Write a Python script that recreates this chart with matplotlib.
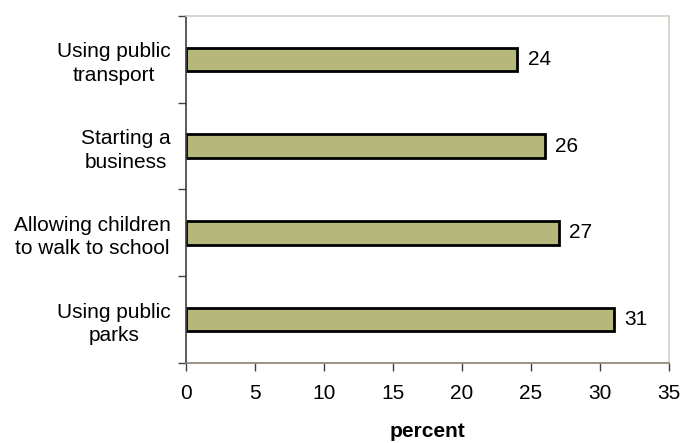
import matplotlib.pyplot as plt
import numpy as np

plt.rcParams['font.family'] = ['Liberation Sans', 'DejaVu Sans']

# Donnees (du bas vers le haut)
categories = ['Using public\nparks', 'Allowing children\nto walk to school',
              'Starting a\nbusiness', 'Using public\ntransport']
valeurs = [31, 27, 26, 24]

fig = plt.figure(figsize=(6.8, 4.43), dpi=100)
ax = fig.add_axes([0.2735, 0.1806, 0.7103, 0.7833])

y = np.arange(len(categories))
ax.barh(y, valeurs, height=0.27, color='#b5b87a', edgecolor='black', linewidth=2)

for yi, v in zip(y, valeurs):
    ax.text(v + 0.75, yi, str(v), va='center', ha='left', fontsize=15)

ax.set_xlim(0, 35)
ax.set_ylim(-0.5, len(categories) - 0.5)
ax.set_xticks(np.arange(0, 36, 5))
ax.set_yticks(y)
ax.set_yticklabels(categories)
ax.set_yticks(np.arange(-0.5, len(categories), 1), minor=True)
ax.tick_params(axis='y', which='major', length=0, pad=11, labelsize=15)
ax.tick_params(axis='y', which='minor', length=6, width=1, color='#404040')
ax.tick_params(axis='x', length=6, width=1, color='#404040', labelsize=15, pad=9)
for lab in ax.get_yticklabels():
    lab.set_multialignment('center')
    lab.set_linespacing(1.3)

ax.spines['top'].set_color('#d6cdc4')
ax.spines['right'].set_color('#d6cdc4')
ax.spines['left'].set_color('#404040')
ax.spines['bottom'].set_color('#8c8070')
for s in ax.spines.values():
    s.set_linewidth(1.2)

ax.set_xlabel('percent', fontsize=15, fontweight='bold', labelpad=14)

fig.savefig('out.png', dpi=100)
